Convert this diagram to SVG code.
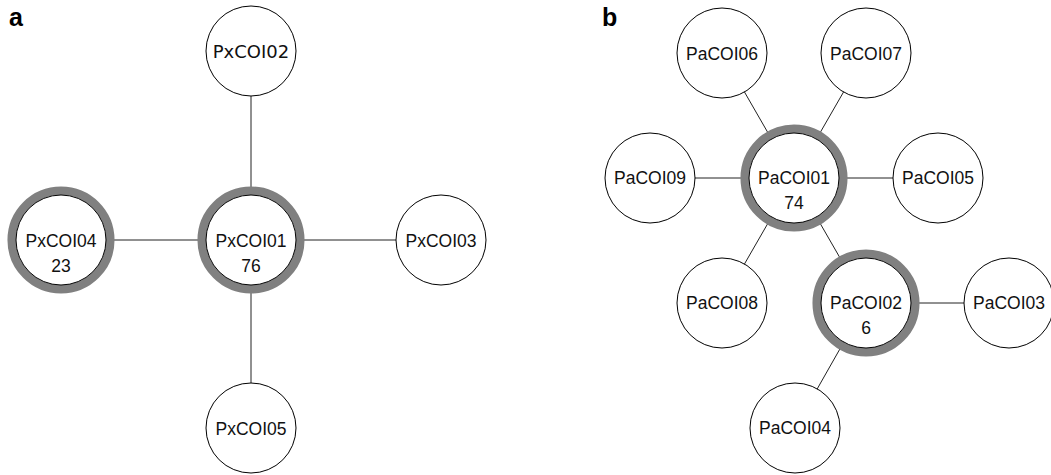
<svg xmlns="http://www.w3.org/2000/svg" width="1051" height="475" viewBox="0 0 1051 475">
<style>
.edge{stroke:#222;stroke-width:1;fill:none}
.node{fill:#fff;stroke:#000;stroke-width:1}
.ring{fill:none;stroke:#808080;stroke-width:8.5}
.lbl{font-family:"Liberation Sans",Arial,sans-serif;font-size:17.5px;fill:#111;text-anchor:middle}
.lblv{font-family:"DejaVu Sans",Verdana,sans-serif;font-size:18px;fill:#111;text-anchor:middle}
.panel{font-family:"Liberation Sans",Arial,sans-serif;font-size:25px;font-weight:bold;fill:#000}
</style>
<rect width="1051" height="475" fill="#fff"/>
<text class="panel" x="9" y="26">a</text>
<text class="panel" x="602" y="26">b</text>
<g id="connectors">
<line class="edge" x1="251" y1="50" x2="251" y2="240"/>
<line class="edge" x1="251" y1="240" x2="251" y2="429"/>
<line class="edge" x1="61" y1="240" x2="251" y2="240"/>
<line class="edge" x1="251" y1="240" x2="441" y2="240"/>
<line class="edge" x1="794" y1="178" x2="650" y2="178"/>
<line class="edge" x1="794" y1="178" x2="938" y2="178"/>
<line class="edge" x1="794" y1="178" x2="722" y2="53"/>
<line class="edge" x1="794" y1="178" x2="866" y2="53"/>
<line class="edge" x1="794" y1="178" x2="722" y2="303"/>
<line class="edge" x1="794" y1="178" x2="866" y2="303"/>
<line class="edge" x1="866" y1="303" x2="1009" y2="303"/>
<line class="edge" x1="866" y1="303" x2="795" y2="428"/>
</g>
<g id="PxCOI02"><circle class="node" cx="251" cy="51" r="45"/><text class="lblv" x="251" y="58">PxCOI02</text></g>
<g id="PxCOI01"><circle class="ring" cx="251" cy="240" r="49.3"/><circle class="node" cx="251" cy="240" r="45"/><text class="lbl" x="251" y="246.5">PxCOI01</text><text class="lbl" x="251" y="271.5">76</text></g>
<g id="PxCOI04"><circle class="ring" cx="61" cy="240" r="49.3"/><circle class="node" cx="61" cy="240" r="45"/><text class="lbl" x="61" y="246.5">PxCOI04</text><text class="lbl" x="61" y="271.5">23</text></g>
<g id="PxCOI03"><circle class="node" cx="441" cy="240" r="45"/><text class="lbl" x="441" y="246.5">PxCOI03</text></g>
<g id="PxCOI05"><circle class="node" cx="251" cy="428" r="45"/><text class="lbl" x="251" y="434.5">PxCOI05</text></g>
<g id="PaCOI06"><circle class="node" cx="722" cy="53" r="45"/><text class="lbl" x="722" y="59.5">PaCOI06</text></g>
<g id="PaCOI07"><circle class="node" cx="866" cy="53" r="45"/><text class="lbl" x="866" y="59.5">PaCOI07</text></g>
<g id="PaCOI09"><circle class="node" cx="650" cy="178" r="45"/><text class="lbl" x="650" y="184">PaCOI09</text></g>
<g id="PaCOI01"><circle class="ring" cx="794" cy="178" r="49.3"/><circle class="node" cx="794" cy="178" r="45"/><text class="lbl" x="794" y="184">PaCOI01</text><text class="lbl" x="794" y="209">74</text></g>
<g id="PaCOI05"><circle class="node" cx="938" cy="178" r="45"/><text class="lbl" x="938" y="184">PaCOI05</text></g>
<g id="PaCOI08"><circle class="node" cx="722" cy="303" r="45"/><text class="lbl" x="722" y="309">PaCOI08</text></g>
<g id="PaCOI02"><circle class="ring" cx="866" cy="303" r="49.3"/><circle class="node" cx="866" cy="303" r="45"/><text class="lbl" x="866" y="309">PaCOI02</text><text class="lbl" x="866" y="334">6</text></g>
<g id="PaCOI03"><circle class="node" cx="1009" cy="303" r="45"/><text class="lbl" x="1009" y="309">PaCOI03</text></g>
<g id="PaCOI04"><circle class="node" cx="795" cy="428" r="45"/><text class="lbl" x="795" y="434">PaCOI04</text></g>
</svg>
